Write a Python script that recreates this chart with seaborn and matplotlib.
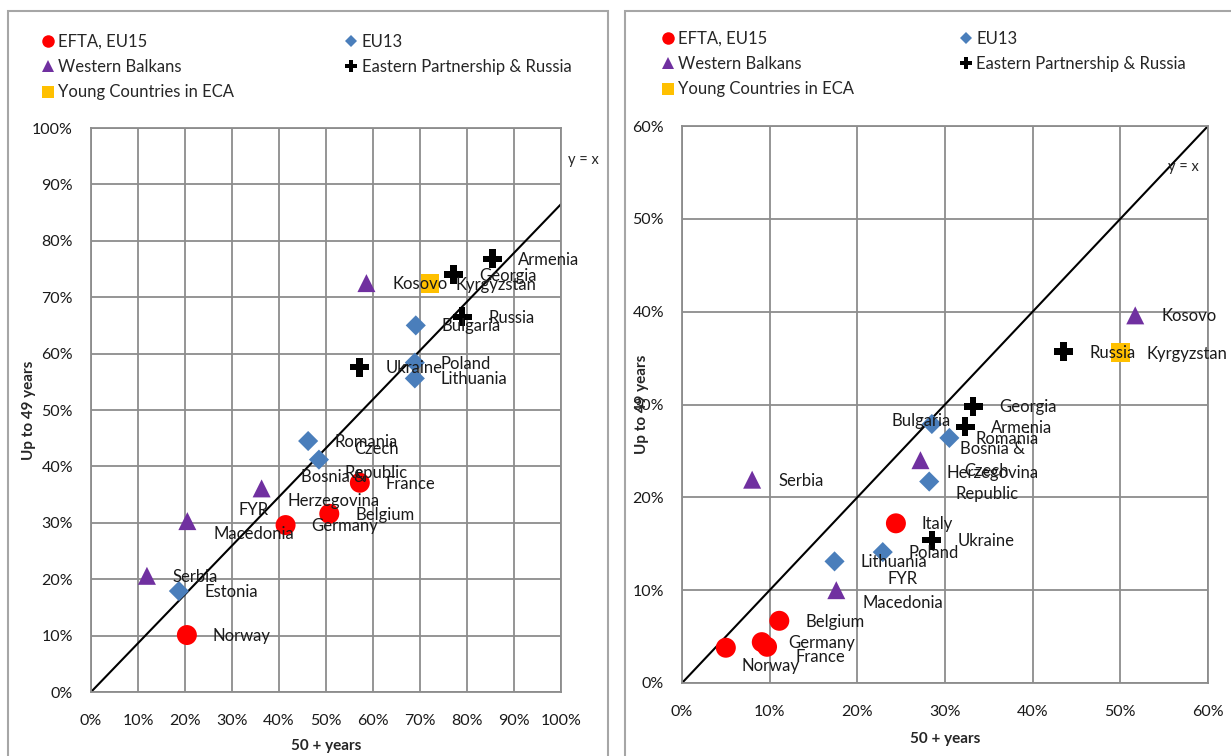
import matplotlib
matplotlib.use("Agg")
import matplotlib.pyplot as plt
from matplotlib.lines import Line2D
from matplotlib.legend import Legend
from matplotlib.patches import Rectangle
from matplotlib.ticker import FuncFormatter
import pandas as pd
import seaborn as sns

# groups / legend
groups = ["EFTA, EU15", "EU13", "Western Balkans",
          "Eastern Partnership & Russia", "Young Countries in ECA"]

# left chart (share in %)
left_country = ["Norway", "Germany", "Belgium", "France",
                "Estonia", "Romania", "Czech\nRepublic", "Bulgaria", "Poland", "Lithuania",
                "Serbia", "FYR\nMacedonia", "Bosnia &\nHerzegovina", "Kosovo",
                "Ukraine", "Georgia", "Russia", "Armenia",
                "Kyrgyzstan"]
left_x = [20.4, 41.4, 50.7, 57.2,
          18.7, 46.2, 48.5, 69.1, 68.9, 68.9,
          11.9, 20.5, 36.3, 58.6,
          57.1, 77.1, 79.0, 85.4,
          72.1]
left_y = [10.1, 29.6, 31.6, 37.1,
          17.9, 44.5, 41.2, 65.0, 58.4, 55.6,
          20.6, 30.3, 36.1, 72.5,
          57.6, 74.0, 66.5, 76.8,
          72.4]
left_group = [groups[0]] * 4 + [groups[1]] * 6 + [groups[2]] * 4 + [groups[3]] * 4 + [groups[4]]
left_diag_x = [0, 100]
left_diag_y = [0, 86.5]

# right chart (share in %)
right_country = ["Norway", "Germany", "France", "Belgium", "Italy",
                 "Lithuania", "Poland", "Czech\nRepublic", "Romania", "Bulgaria",
                 "Serbia", "FYR\nMacedonia", "Bosnia &\nHerzegovina", "Kosovo",
                 "Ukraine", "Armenia", "Georgia", "Russia",
                 "Kyrgyzstan"]
right_x = [5.0, 9.1, 9.7, 11.1, 24.4,
           17.4, 22.9, 28.2, 30.5, 28.5,
           8.0, 17.6, 27.2, 51.7,
           28.5, 32.3, 33.2, 43.5,
           50.0]
right_y = [3.8, 4.4, 3.9, 6.7, 17.2,
           13.1, 14.1, 21.7, 26.4, 27.9,
           21.9, 10.0, 24.0, 39.6,
           15.4, 27.6, 29.8, 35.7,
           35.6]
right_group = [groups[0]] * 5 + [groups[1]] * 5 + [groups[2]] * 4 + [groups[3]] * 4 + [groups[4]]
right_diag_x = [0, 60]
right_diag_y = [0, 60]

# styles
palette = {groups[0]: "#FF0000", groups[1]: "#4A7EBB", groups[2]: "#7030A0",
           groups[3]: "#000000", groups[4]: "#FFC000"}
markers = {groups[0]: "o", groups[1]: "D", groups[2]: "^", groups[3]: "P", groups[4]: "s"}
sizes = {groups[0]: 207, groups[1]: 105, groups[2]: 168, groups[3]: 187, groups[4]: 177}

# label placement (pixels): default right of marker, a few moved by hand
default_off = (26, -1, "left")
right_label_off = {"Bulgaria": (-11, 3, "center"),
                   "France": (28, -10, "left"),
                   "Norway": (45, -18, "center")}

GRID = "#8c8c8c"
FS = 12
TICK_FS = 11.5

sns.set_style("white")
plt.rcParams["font.family"] = ["Lato", "DejaVu Sans"]

fig = plt.figure(figsize=(12.31, 7.56), dpi=100)
W, H = 1231.0, 756.0

# chart area borders
fig.patches.append(Rectangle((8 / W, -0.1), 600 / W, 1.1 - 11 / H, transform=fig.transFigure,
                             fill=False, edgecolor="#a6a6a6", lw=1.5))
fig.patches.append(Rectangle((625 / W, -0.1), 0.6, 1.1 - 11 / H, transform=fig.transFigure,
                             fill=False, edgecolor="#a6a6a6", lw=1.5))

ax1 = fig.add_axes([91 / W, 64 / H, 470 / W, 564 / H])
ax2 = fig.add_axes([682 / W, 73 / H, 526 / W, 557 / H])


def draw(ax, country, x, y, grp, dx, dy, lim, yx_pos, overrides):
    df = pd.DataFrame({"country": country, "x": x, "y": y, "group": grp})
    ax.plot(dx, dy, color="black", lw=1.5, zorder=2)
    sns.scatterplot(data=df, x="x", y="y", hue="group", style="group", size="group",
                    palette=palette, markers=markers, sizes=sizes, linewidth=0,
                    legend=False, ax=ax, zorder=3)
    for _, r in df.iterrows():
        ox, oy, ha = overrides.get(r["country"], default_off)
        ax.annotate(r["country"], (r["x"], r["y"]), xytext=(ox, oy), textcoords="offset pixels",
                    ha=ha, va="center", multialignment="center", fontsize=FS, color="#1a1a1a",
                    zorder=4, linespacing=1.6)
    ax.set_xlim(0, lim)
    ax.set_ylim(0, lim)
    ax.set_xticks(range(0, lim + 1, 10))
    ax.set_yticks(range(0, lim + 1, 10))
    fmt = FuncFormatter(lambda v, p: "%d%%" % v)
    ax.xaxis.set_major_formatter(fmt)
    ax.yaxis.set_major_formatter(fmt)
    ax.grid(True, color=GRID, lw=1.3)
    ax.set_axisbelow(True)
    for s in ax.spines.values():
        s.set_color(GRID)
        s.set_linewidth(1.3)
    ax.tick_params(length=5, width=1.3, color=GRID, labelsize=TICK_FS, labelcolor="#1a1a1a")
    ax.tick_params(axis="x", pad=11)
    ax.tick_params(axis="y", pad=8)
    ax.set_xlabel("50 + years", fontsize=11, fontweight="bold")
    ax.set_ylabel("Up to 49 years", fontsize=11, fontweight="bold")
    ax.text(yx_pos[0], yx_pos[1], "y = x", transform=ax.transAxes, ha="center", va="center",
            fontsize=10.5)


draw(ax1, left_country, left_x, left_y, left_group, left_diag_x, left_diag_y, 100,
     (1.047, 0.943), {})
draw(ax2, right_country, right_x, right_y, right_group, right_diag_x, right_diag_y, 60,
     (0.954, 0.926), right_label_off)

ax1.yaxis.set_label_coords(-0.117, 0.5)
ax1.xaxis.set_label_coords(0.5, -0.084)
ax2.yaxis.set_label_coords(-0.063, 0.5)
ax2.xaxis.set_label_coords(0.5, -0.088)


# legends: two columns placed separately
def handle(g):
    return Line2D([], [], ls="", marker=markers[g], color=palette[g],
                  markersize=9 if markers[g] != "D" else 6.5, markeredgewidth=0)


def legend_block(ax, items, x, y):
    lg = Legend(ax, [handle(g) for g in items], items, loc="upper left",
                bbox_to_anchor=(x / W, 1 - y / H), bbox_transform=fig.transFigure,
                frameon=False, fontsize=12, handlelength=0.8, handletextpad=0.25,
                labelspacing=0.55, borderpad=0, borderaxespad=0)
    ax.add_artist(lg)


col1 = [groups[0], groups[2], groups[4]]
col2 = [groups[1], groups[3]]
legend_block(ax1, col1, 41, 34)
legend_block(ax1, col2, 344, 34)
legend_block(ax2, col1, 661, 31)
legend_block(ax2, col2, 959, 31)

plt.savefig("out.png", dpi=100)
